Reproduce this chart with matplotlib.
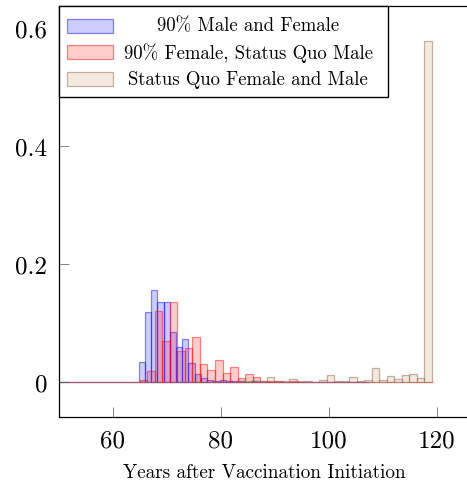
import matplotlib
matplotlib.use("Agg")
import matplotlib.pyplot as plt
from matplotlib.patches import Rectangle
import numpy as np

plt.rcParams['font.family'] = ['cmr10', 'DejaVu Serif']
plt.rcParams['axes.unicode_minus'] = False
plt.rcParams['mathtext.fontset'] = 'cm'

# ---- data: histogram bin heights (fraction), 50 bins per series ----
series_labels = ["90% Male and Female",
                 "90% Female, Status Quo Male",
                 "Status Quo Female and Male"]

# 90% Male and Female: bins from 49.9, width 1.15
blue_start, blue_width = 49.9, 1.15
blue_vals = [0]*13 + [0.034, 0.118, 0.156, 0.135, 0.135, 0.084, 0.060, 0.073,
                      0.033, 0.014, 0.006, 0.003, 0.001, 0.003, 0.001, 0.001,
                      0.001, 0.0, 0.001, 0.0, 0.0, 0.0, 0.0, 0.0, 0.0, 0.0,
                      0.0, 0.0, 0.0, 0.0, 0.0, 0.0, 0.0, 0.0, 0.0, 0.0, 0.0]

# 90% Female, Status Quo Male: bins from 49.77, width 1.39
red_start, red_width = 49.77, 1.39
red_vals = [0]*11 + [0.003, 0.019, 0.120, 0.070, 0.135, 0.053, 0.057, 0.076,
                     0.031, 0.021, 0.038, 0.016, 0.025, 0.007, 0.014, 0.008,
                     0.002, 0.001, 0.001, 0.0, 0.001, 0.0, 0.0, 0.0, 0.0, 0.0,
                     0.0, 0.0, 0.0, 0.0, 0.0, 0.0, 0.0, 0.0, 0.0, 0.0, 0.0,
                     0.0, 0.0]

# Status Quo Female and Male: bins from 49.6, width 1.39
brown_start, brown_width = 49.6, 1.39
brown_vals = [0]*24 + [0.001, 0.001, 0.001, 0.001, 0.009, 0.001, 0.002, 0.005,
                       0.001, 0.002, 0.0005, 0.003, 0.012, 0.001, 0.002, 0.008,
                       0.002, 0.004, 0.023, 0.004, 0.010, 0.005, 0.012, 0.014,
                       0.007, 0.578]

x_ticks = [60, 80, 100, 120]
y_ticks = [0, 0.2, 0.4, 0.6]
y_ticklabels = ["0", "0.2", "0.4", "0.6"]
xlabel = "Years after Vaccination Initiation"

# ---- figure ----
W, H = 467, 481
fig = plt.figure(figsize=(W/100, H/100), dpi=100)
ax_l, ax_r, ax_t, ax_b = 59, 470, 7, 418
ax = fig.add_axes([ax_l/W, (H-ax_b)/H, (ax_r-ax_l)/W, (ax_b-ax_t)/H])

styles = [
    dict(face=(0, 0, 1, 0.2), edge=(0, 0, 1, 0.45)),
    dict(face=(1, 0, 0, 0.2), edge=(1, 0, 0, 0.45)),
    dict(face=(0.75, 0.5, 0.25, 0.17), edge=(0.55, 0.42, 0.32, 0.5)),
]
specs = [(blue_start, blue_width, blue_vals),
         (red_start, red_width, red_vals),
         (brown_start, brown_width, brown_vals)]

for (start, width, vals), st in zip(specs, styles):
    lefts = start + width*np.arange(len(vals))
    ax.bar(lefts, vals, width=width, align='edge', color=st['face'],
           edgecolor=st['edge'], linewidth=0.9)

ax.set_xlim(50.06, 126.2)
ax.set_ylim(-0.0593, 0.637)
ax.set_xticks(x_ticks)
ax.set_xticklabels([str(t) for t in x_ticks])
ax.set_yticks(y_ticks)
ax.set_yticklabels(y_ticklabels)
ax.tick_params(direction='in', length=7, width=0.5, color='#555555',
               labelsize=18, pad=8.5)
ax.tick_params(axis='x', pad=9)
for s in ax.spines.values():
    s.set_linewidth(0.9)
ax.spines['right'].set_visible(False)
ax.set_xlabel(xlabel, fontsize=13.8, labelpad=8.5)

# ---- legend (centered entries, pgfplots-like) ----
def fx(px):
    return px / W

def fy(py):
    return (H - py) / H

fig.add_artist(Rectangle((fx(59), fy(98)), fx(388) - fx(59), fy(7) - fy(98),
                         transform=fig.transFigure, facecolor='white',
                         edgecolor='black', linewidth=1.0, zorder=5))
row_y = [26.5, 53.2, 80]
for lab, st, yc in zip(series_labels, styles, row_y):
    fig.add_artist(Rectangle((fx(67), fy(yc + 7)), fx(113) - fx(67), fy(yc - 7) - fy(yc + 7),
                             transform=fig.transFigure, facecolor=st['face'],
                             edgecolor=st['edge'], linewidth=0.9, zorder=6))
    fig.text(fx(248), fy(yc), lab, ha='center', va='center', fontsize=13.5, zorder=7)

fig.savefig("out.png", dpi=100)
